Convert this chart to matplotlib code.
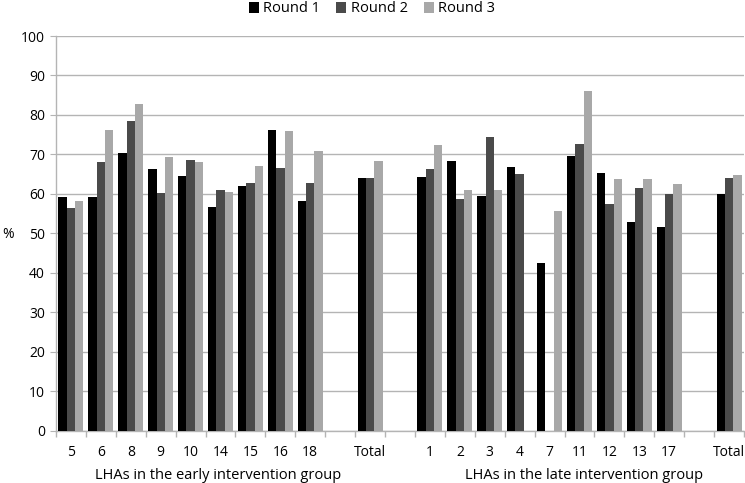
import numpy as np
import matplotlib
matplotlib.use("Agg")
import matplotlib.pyplot as plt
from matplotlib.patches import Patch

plt.rcParams['font.family'] = ['Open Sans', 'DejaVu Sans']

categories = ['5', '6', '8', '9', '10', '14', '15', '16', '18', '', 'Total', '',
              '1', '2', '3', '4', '7', '11', '12', '13', '17', '', 'Total']
nan = np.nan
round1 = [59.3, 59.1, 70.4, 66.4, 64.5, 56.7, 62.0, 76.2, 58.1, nan, 63.9, nan,
          64.3, 68.3, 59.4, 66.7, 42.6, 69.7, 65.2, 52.9, 51.6, nan, 60.0]
round2 = [56.5, 68.2, 78.5, 60.3, 68.5, 61.0, 62.8, 66.6, 62.8, nan, 63.9, nan,
          66.3, 58.6, 74.4, 65.1, nan, 72.6, 57.4, 61.4, 59.9, nan, 63.9]
round3 = [58.2, 76.2, 82.7, 69.3, 68.0, 60.4, 67.0, 75.9, 70.8, nan, 68.4, nan,
          72.4, 61.1, 60.9, nan, 55.6, 86.1, 63.7, 63.7, 62.5, nan, 64.8]
series_names = ['Round 1', 'Round 2', 'Round 3']
group_labels = ['LHAs in the early intervention group', 'LHAs in the late intervention group']
yticks = [0, 10, 20, 30, 40, 50, 60, 70, 80, 90, 100]

colors = ['#000000', '#4a4a4a', '#a8a8a8']

fig = plt.figure(figsize=(7.45, 4.83), dpi=100)
ax = fig.add_axes([56/745, 1 - 430.7/483, (744 - 56)/745, (430.7 - 36)/483])

x = np.arange(len(categories))
w = 0.278
for k, (vals, c) in enumerate(zip([round1, round2, round3], colors)):
    ax.bar(x + (k - 1) * w, vals, width=w, color=c, linewidth=0, zorder=3)

ax.set_xlim(-0.5, len(categories) - 0.5)
ax.set_ylim(0, 100)
ax.set_yticks(yticks)
ax.yaxis.grid(True, color='#b4b4b4', linewidth=1.0, zorder=0)
ax.tick_params(axis='y', length=4, color='#b4b4b4', labelsize=10, pad=4)

ax.set_xticks(x)
ax.set_xticklabels(categories, fontsize=10)
ax.tick_params(axis='x', which='major', length=0, pad=10)
ax.set_xticks(np.arange(-0.5, len(categories), 1.0), minor=True)
ax.tick_params(axis='x', which='minor', length=4, color='#b4b4b4', width=1)

for s in ['top', 'right']:
    ax.spines[s].set_visible(False)
for s in ['left', 'bottom']:
    ax.spines[s].set_color('#b4b4b4')
    ax.spines[s].set_linewidth(1.0)

fig.text(8/745, 1 - 234/483, '%', fontsize=10, ha='center', va='center')
fig.text(218/745, 1 - 479/483, group_labels[0], fontsize=10.5, ha='center', va='baseline')
fig.text(584/745, 1 - 479/483, group_labels[1], fontsize=10.5, ha='center', va='baseline')

handles = [Patch(facecolor=c, edgecolor='none') for c in colors]
fig.legend(handles, series_names, loc='center', bbox_to_anchor=(372/745, 1 - 9/483),
           ncol=3, frameon=False, fontsize=10.5, handlelength=0.7, handleheight=0.7,
           handletextpad=0.3, columnspacing=1.1, borderaxespad=0)

fig.savefig('out.png', dpi=100)
